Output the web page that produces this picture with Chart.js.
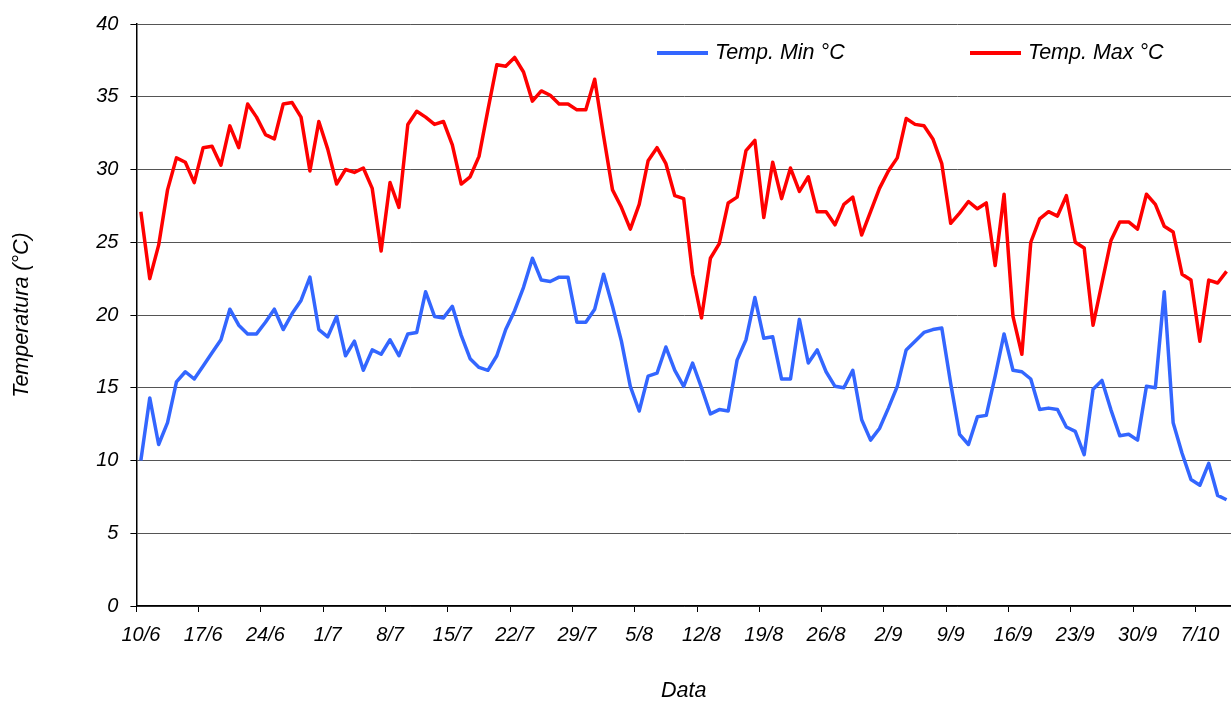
<!DOCTYPE html>
<html lang="it">
<head>
<meta charset="utf-8">
<title>Temperature minime e massime</title>
<script src="https://cdn.jsdelivr.net/npm/chart.js@4.4.1/dist/chart.umd.min.js"></script>
<style>
  html, body { margin:0; padding:0; background:#fff; }
  #box { position:relative; width:1231px; height:704px; }
</style>
</head>
<body>
<div id="box"><canvas id="grafico"></canvas></div>
<script>
// Etichette dell'asse X (una ogni 7 giorni, a partire dal 10/6)
const etichetteData = ['10/6','17/6','24/6','1/7','8/7','15/7','22/7','29/7','5/8',
  '12/8','19/8','26/8','2/9','9/9','16/9','23/9','30/9','7/10'];

// Temperatura minima giornaliera (°C), dal 10/6 al 10/10
const tempMin = [
  10.0, 14.3, 11.1, 12.6, 15.4, 16.1, 15.6, 16.5, 17.4, 18.3,
  20.4, 19.3, 18.7, 18.7, 19.5, 20.4, 19.0, 20.1, 21.0, 22.6,
  19.0, 18.5, 19.9, 17.2, 18.2, 16.2, 17.6, 17.3, 18.3, 17.2,
  18.7, 18.8, 21.6, 19.9, 19.8, 20.6, 18.6, 17.0, 16.4, 16.2,
  17.2, 19.0, 20.3, 21.9, 23.9, 22.4, 22.3, 22.6, 22.6, 19.5,
  19.5, 20.4, 22.8, 20.6, 18.2, 15.1, 13.4, 15.8, 16.0, 17.8,
  16.2, 15.1, 16.7, 15.0, 13.2, 13.5, 13.4, 16.9, 18.3, 21.2,
  18.4, 18.5, 15.6, 15.6, 19.7, 16.7, 17.6, 16.1, 15.1, 15.0,
  16.2, 12.8, 11.4, 12.2, 13.6, 15.1, 17.6, 18.2, 18.8, 19.0,
  19.1, 15.3, 11.8, 11.1, 13.0, 13.1, 15.8, 18.7, 16.2, 16.1,
  15.6, 13.5, 13.6, 13.5, 12.3, 12.0, 10.4, 14.9, 15.5, 13.5,
  11.7, 11.8, 11.4, 15.1, 15.0, 21.6, 12.6, 10.5, 8.7, 8.3,
  9.8, 7.6, 7.3
];

// Temperatura massima giornaliera (°C)
const tempMax = [
  27.1, 22.5, 24.8, 28.6, 30.8, 30.5, 29.1, 31.5, 31.6, 30.3,
  33.0, 31.5, 34.5, 33.6, 32.4, 32.1, 34.5, 34.6, 33.6, 29.9,
  33.3, 31.4, 29.0, 30.0, 29.8, 30.1, 28.7, 24.4, 29.1, 27.4,
  33.1, 34.0, 33.6, 33.1, 33.3, 31.7, 29.0, 29.5, 30.9, 34.1,
  37.2, 37.1, 37.7, 36.7, 34.7, 35.4, 35.1, 34.5, 34.5, 34.1,
  34.1, 36.2, 32.3, 28.6, 27.4, 25.9, 27.6, 30.6, 31.5, 30.4,
  28.2, 28.0, 22.8, 19.8, 23.9, 24.9, 27.7, 28.1, 31.3, 32.0,
  26.7, 30.5, 28.0, 30.1, 28.5, 29.5, 27.1, 27.1, 26.2, 27.6,
  28.1, 25.5, 27.1, 28.7, 29.9, 30.8, 33.5, 33.1, 33.0, 32.1,
  30.4, 26.3, 27.0, 27.8, 27.3, 27.7, 23.4, 28.3, 19.9, 17.3,
  25.0, 26.6, 27.1, 26.8, 28.2, 25.0, 24.6, 19.3, 22.2, 25.1,
  26.4, 26.4, 25.9, 28.3, 27.6, 26.1, 25.7, 22.8, 22.4, 18.2,
  22.4, 22.2, 23.0
];

const coloreMin = '#3366ff';
const coloreMax = '#ff0000';
const font = '"Liberation Sans", Arial, sans-serif';

Chart.defaults.font.family = font;
Chart.defaults.font.style = 'italic';
Chart.defaults.font.size = 20;
Chart.defaults.color = '#000';

// Legenda dentro l'area del grafico, in alto a destra
const legendaInterna = {
  id: 'legendaInterna',
  afterDraw(chart){
    const ctx = chart.ctx;
    const y = chart.chartArea.top + 29;
    const posX = [657, 970];
    ctx.save();
    ctx.font = 'italic 21.5px ' + font;
    ctx.textBaseline = 'middle';
    chart.data.datasets.forEach((ds, i) => {
      const x = posX[i];
      ctx.strokeStyle = ds.borderColor;
      ctx.lineWidth = 4;
      ctx.beginPath();
      ctx.moveTo(x, y);
      ctx.lineTo(x + 51, y);
      ctx.stroke();
      ctx.fillStyle = '#000';
      ctx.fillText(ds.label, x + 58, y);
    });
    ctx.restore();
  }
};

const ctx = document.getElementById('grafico').getContext('2d');
new Chart(ctx, {
  type: 'line',
  data: {
    datasets: [
      {
        label: 'Temp. Min °C',
        data: tempMin.map((v, i) => ({ x: i, y: v })),
        borderColor: coloreMin,
        borderWidth: 3.5,
        pointRadius: 0,
        tension: 0,
        borderJoinStyle: 'round'
      },
      {
        label: 'Temp. Max °C',
        data: tempMax.map((v, i) => ({ x: i, y: v })),
        borderColor: coloreMax,
        borderWidth: 3.5,
        pointRadius: 0,
        tension: 0,
        borderJoinStyle: 'round'
      }
    ]
  },
  options: {
    responsive: true,
    maintainAspectRatio: false,
    animation: false,
    devicePixelRatio: 1,
    layout: { padding: { top: 23.5, right: 0, left: 0, bottom: 0 } },
    plugins: {
      legend: { display: false },
      tooltip: { enabled: false }
    },
    scales: {
      x: {
        type: 'linear',
        min: -0.5,
        max: tempMin.length - 0.5,
        afterBuildTicks: (scale) => {
          // tacche ai bordi tra le categorie, una ogni 7 giorni
          scale.ticks = etichetteData.map((_, k) => ({ value: k * 7 - 0.5 }));
        },
        afterFit: (scale) => { scale.height = 98; },
        ticks: {
          autoSkip: false,
          maxRotation: 0,
          padding: 11,
          labelOffset: 4.45,
          callback: (value, index) => etichetteData[index]
        },
        grid: {
          drawOnChartArea: false,
          drawTicks: true,
          tickLength: 6,
          color: '#000'
        },
        border: { color: '#000', width: 1.5 },
        title: {
          display: true,
          text: 'Data',
          padding: { top: 0, bottom: 0 },
          font: { size: 21.5, style: 'italic' }
        }
      },
      y: {
        min: 0,
        max: 40,
        afterFit: (scale) => { scale.width = 136.4; },
        ticks: { stepSize: 5, padding: 12 },
        grid: {
          color: '#555',
          lineWidth: 1,
          tickLength: 6,
          tickColor: '#000'
        },
        border: { color: '#000', width: 1.5 },
        title: {
          display: true,
          text: 'Temperatura (°C)',
          padding: { top: 9, bottom: 0 },
          font: { size: 21.5, style: 'italic' }
        }
      }
    }
  },
  plugins: [legendaInterna]
});
</script>
</body>
</html>
